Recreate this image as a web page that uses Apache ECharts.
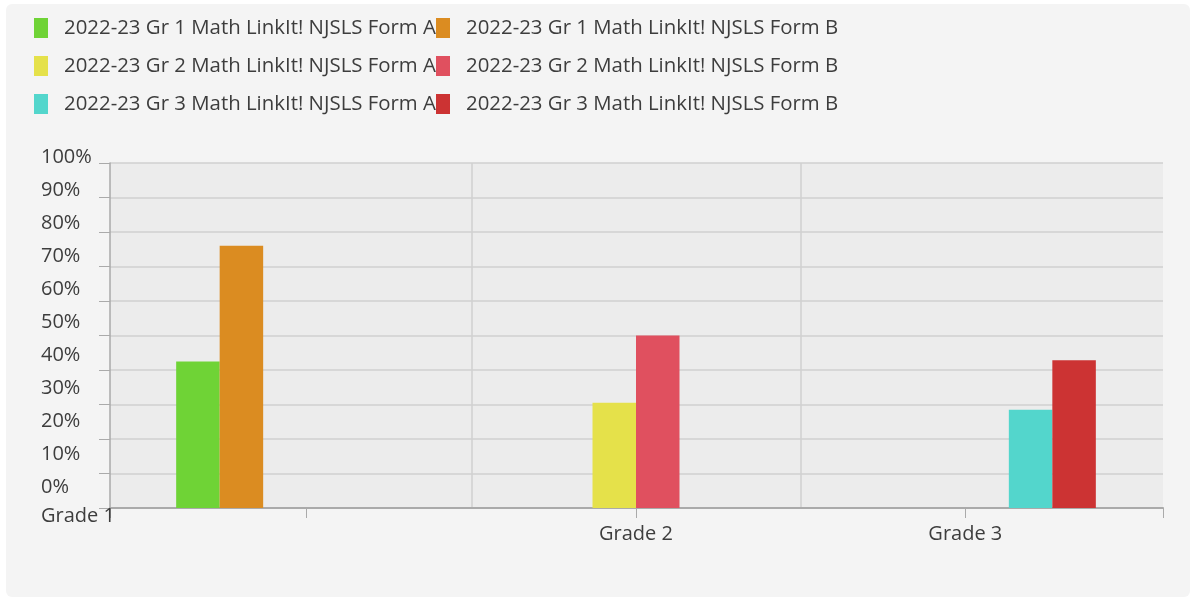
<!DOCTYPE html>
<html>
<head>
<meta charset="utf-8">
<script src="https://cdn.jsdelivr.net/npm/echarts@6/dist/echarts.min.js"></script>
<style>
  html, body { margin: 0; padding: 0; background: #fff; }
  .panel { position: absolute; left: 6px; top: 4px; width: 1184px; height: 593px; background: #f4f4f4; border-radius: 6px; }
  #chart { position: absolute; left: 0; top: 0; width: 1194px; height: 600px; }
</style>
</head>
<body>
<div class="panel"></div>
<div id="chart"></div>
<script>
// grades on the x axis
const grades = ['Grade 1', 'Grade 2', 'Grade 3']
// series names, form A and form B per grade
const formANames = [
  '2022-23 Gr 1 Math LinkIt! NJSLS Form A',
  '2022-23 Gr 2 Math LinkIt! NJSLS Form A',
  '2022-23 Gr 3 Math LinkIt! NJSLS Form A'
]
const formBNames = [
  '2022-23 Gr 1 Math LinkIt! NJSLS Form B',
  '2022-23 Gr 2 Math LinkIt! NJSLS Form B',
  '2022-23 Gr 3 Math LinkIt! NJSLS Form B'
]
// percent values, one per grade
const formAValues = [42.5, 30.5, 28.5]
const formBValues = [76, 50, 42.8]
const formAColors = ['#6fd336', '#e5e14a', '#53d6cc']
const formBColors = ['#db8c21', '#e0505f', '#cc3333']

const font = '"Open Sans", sans-serif'
const textColor = '#3d3d3d'

let chartsInstance = echarts.init(document.getElementById('chart'))

// one series per test, value only in its own grade
let series = []
let legendA = []
let legendB = []
grades.forEach((g, gi) => {
  ;[[formANames, formAValues, formAColors, legendA], [formBNames, formBValues, formBColors, legendB]].forEach(([names, vals, cols, leg]) => {
    const data = grades.map((x, i) => (i === gi ? vals[gi] : '-'))
    series.push({
      name: names[gi],
      type: 'bar',
      xAxisIndex: 1,
      yAxisIndex: 1,
      barWidth: 43.5,
      barGap: '0%',
      color: cols[gi],
      data: data
    })
    leg.push(names[gi])
  })
})

const legendBase = {
  orient: 'vertical',
  top: 18,
  padding: 0,
  itemWidth: 14,
  itemHeight: 20,
  itemGap: 18,
  icon: 'rect',
  textStyle: {
    fontFamily: font,
    fontSize: 20.4,
    color: textColor,
    padding: [0, 0, 0, 11]
  }
}

let option = {
  animation: false,
  legend: [
    Object.assign({}, legendBase, { left: 34, data: legendA }),
    Object.assign({}, legendBase, { left: 436, data: legendB })
  ],
  grid: [
    // backdrop: plot area, horizontal lines, axis lines
    { left: 110, right: 31, top: 163, bottom: 92, show: true, backgroundColor: '#ececec', borderWidth: 0, outerBoundsMode: 'none' },
    // bars
    { left: 142, right: 64, top: 163, bottom: 92, outerBoundsMode: 'none' },
    // y labels + first grade label
    { left: 41, right: 31, top: 157, bottom: 113, outerBoundsMode: 'none' }
  ],
  xAxis: [
    {
      gridIndex: 0,
      type: 'value',
      min: 0,
      max: 1,
      interval: 1,
      axisLine: { show: true, lineStyle: { color: '#aaaaaa', width: 2 } },
      axisTick: { show: true, length: 10, lineStyle: { color: '#aaaaaa' } },
      axisLabel: { show: false },
      splitLine: { show: false }
    },
    {
      gridIndex: 1,
      type: 'category',
      data: grades,
      axisLine: { show: false },
      axisTick: { show: true, alignWithLabel: true, length: 10, lineStyle: { color: '#aaaaaa' } },
      axisLabel: {
        margin: 16,
        fontFamily: font,
        fontSize: 20,
        color: textColor,
        formatter: (v, i) => (i === 0 ? '' : v)
      },
      splitLine: { show: true, showMinLine: false, showMaxLine: false, lineStyle: { color: '#d0d0d0', width: 1.5 } }
    },
    {
      gridIndex: 2,
      type: 'value',
      min: 0,
      max: 1,
      interval: 1,
      axisLine: { show: false },
      axisTick: { show: false },
      splitLine: { show: false },
      axisLabel: {
        margin: 19,
        align: 'left',
        fontFamily: font,
        fontSize: 20,
        color: textColor,
        formatter: v => (v === 0 ? grades[0] : '')
      }
    }
  ],
  yAxis: [
    {
      gridIndex: 0,
      type: 'value',
      min: 0,
      max: 100,
      interval: 10,
      axisLine: { show: true, lineStyle: { color: '#aaaaaa', width: 1.5 } },
      axisTick: { show: true, length: 11, lineStyle: { color: '#aaaaaa' } },
      axisLabel: { show: false },
      splitLine: { show: true, lineStyle: { color: '#d0d0d0', width: 1.5 } }
    },
    {
      gridIndex: 1,
      type: 'value',
      min: 0,
      max: 100,
      show: false
    },
    {
      gridIndex: 2,
      type: 'value',
      min: 0,
      max: 100,
      interval: 10,
      axisLine: { show: false },
      axisTick: { show: false },
      splitLine: { show: false },
      axisLabel: {
        margin: 0,
        align: 'left',
        fontFamily: font,
        fontSize: 20,
        color: textColor,
        formatter: '{value}%'
      }
    }
  ],
  series: series
}

chartsInstance.setOption(option)
</script>
</body>
</html>
